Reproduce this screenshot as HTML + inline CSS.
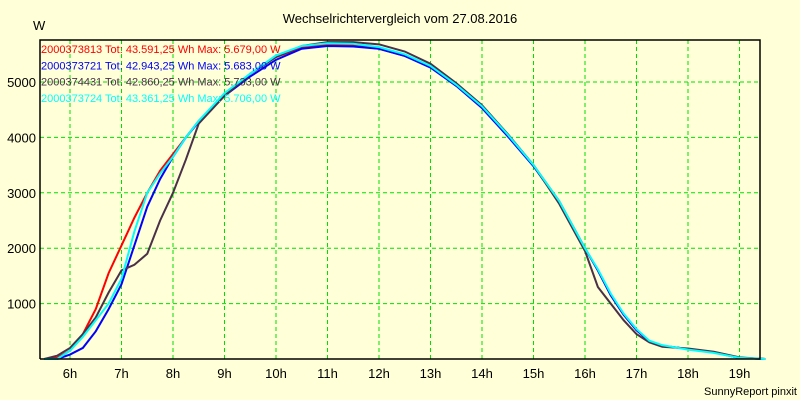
<!DOCTYPE html>
<html><head><meta charset="utf-8"><style>
body{margin:0;background:#ffffd8;}
svg{display:block;font-family:"Liberation Sans",sans-serif;}
</style></head><body>
<svg id="c" width="800" height="400">
<rect width="800" height="400" fill="#ffffd8"/>
<text x="400" y="23" text-anchor="middle" font-size="13">Wechselrichtervergleich vom 27.08.2016</text>
<text x="33" y="30" font-size="13">W</text>
<text x="797" y="395" text-anchor="end" font-size="11">SunnyReport pinxit</text>
<g id="grid"></g><g id="series"></g><g id="legend"></g><g id="axes"></g>
</svg>
<script>
const times=[5.5,5.75,6,6.25,6.5,6.75,7,7.25,7.5,7.75,8,8.25,8.5,9,9.5,10,10.5,11,11.5,12,12.5,13,13.5,14,14.5,15,15.5,16,16.25,16.5,16.75,17,17.25,17.5,18,18.5,19,19.5];
const redVals=[0,20,150,450,900,1550,2050,2550,3000,3400,3700,4000,4300,4750,5150,5450,5620,5680,5660,5600,5470,5280,4950,4550,4050,3500,2850,2000,1600,1150,800,520,320,240,180,120,20,0];
const blueVals=[0,0,80,200,500,900,1350,2050,2750,3250,3650,4000,4280,4750,5100,5400,5600,5650,5640,5600,5470,5260,4930,4530,4020,3480,2830,2000,1600,1150,800,520,320,240,180,120,20,0];
const darkVals=[0,60,200,450,750,1200,1600,1700,1900,2500,3000,3600,4250,4750,5150,5450,5650,5720,5720,5680,5550,5330,4980,4580,4060,3500,2800,1950,1300,1000,700,450,300,220,190,130,30,0];
const cyanVals=[0,0,150,400,700,1000,1450,2300,3000,3350,3650,4000,4300,4800,5150,5480,5650,5700,5690,5630,5500,5290,4950,4560,4050,3500,2850,2000,1620,1180,820,540,330,250,170,110,20,0];
const xTicks=[6,7,8,9,10,11,12,13,14,15,16,17,18,19];
const yTicks=[1000,2000,3000,4000,5000];
const legendLabels=["2000373813 Tot: 43.591,25 Wh Max: 5.679,00 W","2000373721 Tot: 42.943,25 Wh Max: 5.683,00 W","2000374431 Tot: 42.860,25 Wh Max: 5.733,00 W","2000373724 Tot: 43.361,25 Wh Max: 5.706,00 W"];
const L=40,R=760,T=40,B=359;
const X=h=>70+(h-6)*51.5;
const Y=v=>B-v*0.0554;
const NS="http://www.w3.org/2000/svg";
function mk(tag,parent,attrs){const e=document.createElementNS(NS,tag);for(const k in attrs)e.setAttribute(k,attrs[k]);document.getElementById(parent).appendChild(e);return e;}
xTicks.forEach(h=>{
 const l=mk('line','grid',{x1:X(h),x2:X(h),y1:T,y2:B,stroke:'#00e000','stroke-dasharray':'4,3'});
 
 
 const t=mk('text','axes',{x:X(h),y:378,'text-anchor':'middle','font-size':'13'});
 t.textContent=h+'h';
 
 
});
yTicks.forEach(v=>{
 const l=mk('line','grid',{x1:L,x2:R,y1:Y(v),y2:Y(v),stroke:'#00e000','stroke-dasharray':'4,3'});
 
 
 const t=mk('text','axes',{x:36,y:Y(v)+5,'text-anchor':'end','font-size':'13'});
 t.textContent=v;
 
 
});
const frame=mk('path','axes',{d:`M${L},${B}V${T}H${R}V${B}H${L}`,fill:'none',stroke:'#000','stroke-width':'1.5'});


const series=[[redVals,'#ff0000'],[blueVals,'#0000ff'],[darkVals,'#4a3048'],[cyanVals,'#00ffff']];
const names=['series-red','series-blue','series-dark','series-cyan'];
series.forEach(([vals,col],i)=>{
 const p=mk('polyline','series',{points:vals.map((v,j)=>X(times[j])+','+Y(v)).join(' '),fill:'none',stroke:col,'stroke-width':'2'});
 
 
 const t=mk('text','legend',{x:41,y:53+i*16.3,'font-size':'11',fill:col});
 t.textContent=legendLabels[i];
 
 
});
</script>
</body></html>
